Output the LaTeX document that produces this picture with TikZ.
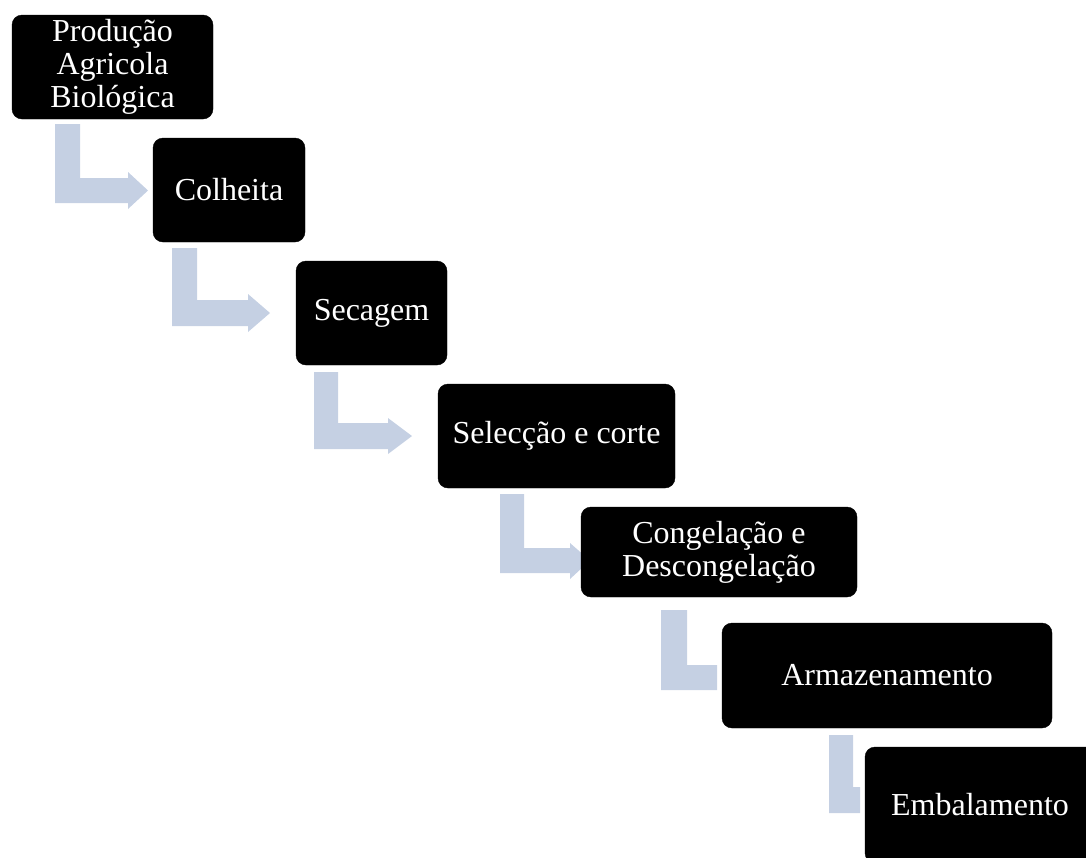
\documentclass[tikz,border=0pt]{standalone}
\usepackage{fontspec}
\setmainfont{Liberation Serif}
\definecolor{arrowblue}{HTML}{C5D0E3}
\tikzset{
  stagebox/.style={fill=black, draw=black, rounded corners=10pt, inner sep=0pt,
    text=white, align=center, font=\fontsize{32}{33}\selectfont},
  bentfill/.style={fill=arrowblue, draw=none}
}
\begin{document}
\begin{tikzpicture}[x=1pt,y=-1pt]
\useasboundingbox (0,0) rectangle (1086,857);
\clip (0,0) rectangle (1086,857);
% bent arrows (behind the boxes)
\fill[bentfill] (55,124) -- (80,124) -- (80,178) -- (128,178) -- (128,172) -- (148,190.5) -- (128,209) -- (128,203) -- (55,203) -- cycle;
\fill[bentfill] (172,248) -- (197,248) -- (197,300) -- (248,300) -- (248,294) -- (270,313) -- (248,332) -- (248,326) -- (172,326) -- cycle;
\fill[bentfill] (314,372) -- (338,372) -- (338,423) -- (388,423) -- (388,418) -- (412,436) -- (388,454) -- (388,449) -- (314,449) -- cycle;
\fill[bentfill] (500,494) -- (524,494) -- (524,548) -- (570,548) -- (570,543) -- (590,560.5) -- (570,579) -- (570,573) -- (500,573) -- cycle;
\fill[bentfill] (661,610) -- (687,610) -- (687,665) -- (717,665) -- (717,690) -- (661,690) -- cycle;
\fill[bentfill] (829,735) -- (853,735) -- (853,787) -- (860,787) -- (860,813) -- (829,813) -- cycle;
% boxes
\node[stagebox, minimum width=201pt, minimum height=104pt] (n1) at (112.5,67) {Produção\\Agricola\\Biológica};
\node[stagebox, minimum width=152pt, minimum height=104pt] (n2) at (229,190) {Colheita};
\node[stagebox, minimum width=151pt, minimum height=104pt] (n3) at (371.5,313) {Secagem};
\node[stagebox, minimum width=237pt, minimum height=104pt] (n4) at (556.5,436) {Selecção e corte};
\node[stagebox, minimum width=276pt, minimum height=90pt] (n5) at (719,552) {Congelação e\\Descongelação};
\node[stagebox, minimum width=330pt, minimum height=105pt] (n6) at (887,675.5) {Armazenamento};
\node[stagebox, minimum width=230pt, minimum height=116pt] (n7) at (980,805) {Embalamento};
\end{tikzpicture}
\end{document}
